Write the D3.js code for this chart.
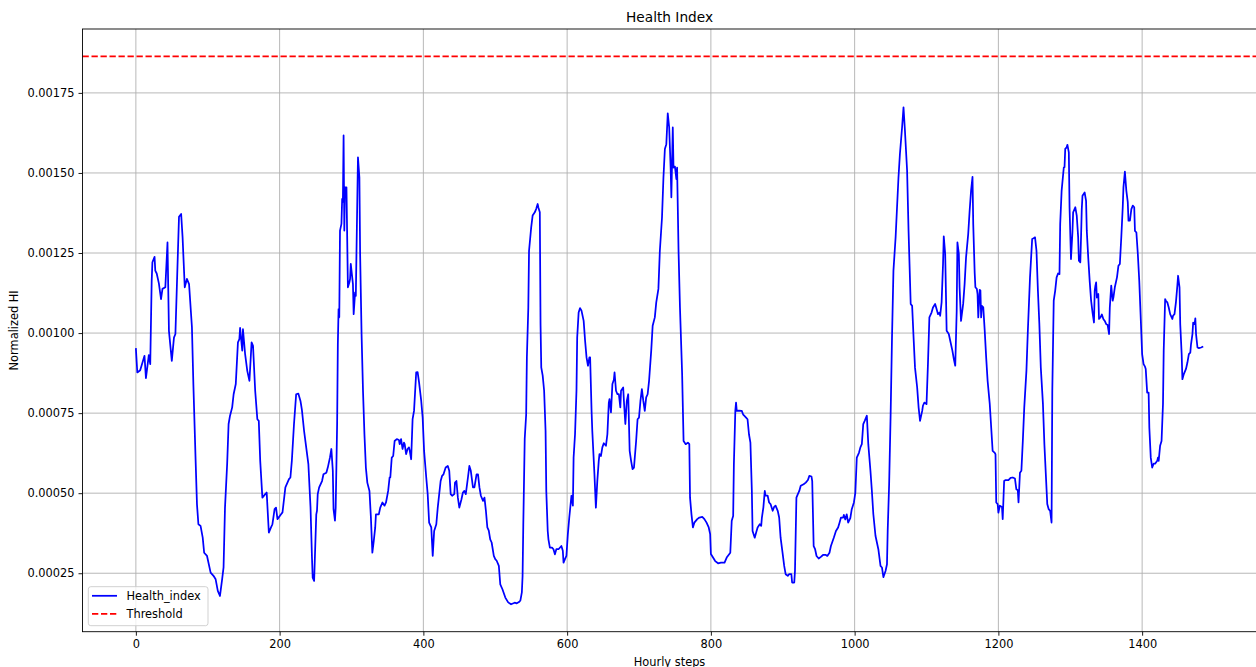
<!DOCTYPE html>
<html>
<head>
<meta charset="utf-8">
<script src="https://cdn.jsdelivr.net/npm/d3@7"></script>
<style>
  html, body { margin: 0; padding: 0; background: #ffffff; }
  svg { display: block; }
  text { font-family: "DejaVu Sans", sans-serif; }
</style>
</head>
<body>
<svg id="chart" width="1256" height="667"></svg>
<script>
// Health index per hourly step, values in units of 1e-5.
const HI_SCALE = 1e-5;
const healthIndexSeries = [
  [0,95.3],[2,87.7],[6,88.4],[12,92.9],[14,85.9],[18,93.1],[20,90.3],[22,116.3],[23,122.1],[26,123.8],
  [27,119.5],[29,118.6],[32,115.5],[35,110.6],[37,113.8],[41,114.3],[44,128.3],[46,100.7],[50,91.3],[53,98.6],
  [55,99.7],[60,136.3],[63,137.2],[65,129.9],[68,114.3],[71,116.9],[74,115.3],[78,101.8],[80,84],[83,61.1],
  [85,46.6],[87,40.3],[90,39.8],[93,36.1],[95,31.4],[99,30.4],[104,25.2],[108,24.2],[111,23.1],[114,19.5],
  [117,17.9],[120,23.1],[122,26.8],[124,45.5],[127,59.1],[129,71.6],[131,74.2],[134,76.8],[136,80.9],[139,84.1],
  [142,97.1],[144,98.1],[145,101.6],[148,94.5],[149,101.2],[152,93.4],[155,88.2],[158,85.1],[161,97.1],[163,96],
  [166,82],[169,73.1],[171,72.6],[173,60.1],[176,48.6],[180,49.7],[182,50.2],[185,37.7],[188,39.3],[190,40.3],
  [193,45],[195,45.5],[197,41.9],[202,43.4],[204,44],[208,51.8],[213,54.4],[215,54.9],[217,60.1],[220,71.6],
  [223,80.9],[226,81.1],[229,78.8],[231,76],[234,69.5],[236,66],[240,59.1],[243,45.5],[245,29.9],[246,23.6],
  [248,22.6],[251,43.4],[252,44.5],[253,49.7],[255,51.8],[259,53.8],[261,55.9],[265,56.4],[267,58],[270,61.1],
  [272,63.8],[274,57],[275,45],[277,41.4],[278,45.5],[280,71.6],[281,96.6],[282,107.5],[283,104.9],[284,132],
  [286,134.1],[287,141.9],[288,141],[289,161.7],[290,132],[291,145.5],[293,145.5],[295,114.3],[297,115.8],[298,116.9],
  [299,121.6],[302,115.3],[303,105.9],[305,112.7],[306,111.6],[309,154.9],[311,148.6],[312,124.7],[314,99.7],[316,82],
  [318,68.4],[320,58],[322,53.3],[325,50.7],[327,42.4],[329,31.4],[331,35.1],[333,39.3],[334,43.4],[338,43.4],
  [340,45.5],[343,47.1],[346,46.1],[348,47.1],[351,50.7],[353,54.9],[354,54.9],[356,61.1],[358,61.6],[360,66.3],
  [363,66.9],[366,66.6],[367,65.3],[369,66.9],[371,63.8],[373,65.8],[374,65.3],[376,62.2],[378,63.8],[380,64.3],
  [381,63.3],[383,60.6],[385,73.1],[387,75.7],[390,87.7],[392,87.8],[394,84.6],[397,78.8],[399,73.6],[401,63.2],
  [404,54.9],[406,49.7],[408,40.8],[411,39.3],[413,30.4],[415,38.2],[418,40.3],[420,45.5],[424,53.8],[426,55.4],
  [428,55.9],[431,58],[434,58.5],[436,57],[438,49.7],[440,49.2],[443,49.7],[444,53.3],[446,53.8],[448,48.6],
  [450,45.5],[453,48.1],[455,50.2],[457,50.7],[459,49.7],[462,54.9],[464,58.5],[466,57],[469,51.8],[471,51.8],
  [474,55.9],[476,55.9],[478,51.8],[480,49.2],[483,47.6],[485,48.6],[487,44.5],[489,39.3],[491,38.3],[493,35.6],
  [495,34.6],[498,30.4],[500,29.4],[502,28.9],[505,27.3],[507,21.5],[510,20],[514,17.4],[518,15.9],[522,15.3],
  [527,15.8],[530,15.6],[533,16],[535,16.5],[537,19],[538,24],[539,40],[541,67],[543,74.5],[544,92.4],
  [546,108],[547,125.7],[550,133],[552,136.7],[555,137.7],[557,138.8],[559,140.3],[560,139.2],[562,137.7],[563,102.8],
  [564,89.3],[566,86.7],[568,82],[570,69.5],[571,50.7],[573,38.2],[574,35.6],[576,33],[579,33],[581,32.5],
  [583,30.9],[585,32.5],[588,32.5],[592,33.5],[594,32],[595,28.3],[597,29.4],[599,30.4],[601,37.2],[603,42.4],
  [606,49.2],[608,46.1],[609,61.1],[611,68.4],[613,82],[614,98.6],[616,106.4],[618,107.8],[620,107],[623,103.8],
  [625,97.6],[627,92.4],[629,89.8],[631,92.4],[632,92.4],[634,75.7],[635,69.5],[638,55.9],[640,45.5],[642,53.8],
  [644,60.1],[645,62.2],[647,61.6],[649,64.3],[651,65.6],[654,64.8],[656,68.4],[658,78.3],[659,79.4],[661,75.2],
  [663,84.1],[665,85.4],[666,87.7],[668,82],[670,80.9],[672,80.9],[674,76.8],[675,82],[678,83],[679,78.8],
  [681,71.6],[683,78.8],[685,80.9],[687,63.2],[689,60.1],[691,57.5],[693,58],[696,66.3],[698,73.1],[700,73.6],
  [702,78.8],[704,82.5],[706,78.8],[708,75.7],[710,79.9],[712,80.9],[714,85.1],[717,94.5],[719,102.3],[722,104.9],
  [724,109.6],[727,113.8],[729,125.7],[732,136.1],[734,148.6],[736,157.5],[738,159],[740,168.6],[742,164.2],[744,151.7],
  [745,142.4],[747,164.2],[748,151.7],[750,152],[752,148.1],[753,151.7],[755,125.7],[757,108],[760,87.2],[762,66.3],
  [765,65.3],[768,65.8],[770,65.3],[771,48.6],[773,43.4],[775,39.3],[777,40.8],[781,41.9],[784,42.4],[788,42.6],
  [791,41.9],[794,40.8],[797,39.3],[799,37.2],[800,31],[803,29.9],[806,28.8],[810,28.1],[814,28.3],[819,28.3],
  [822,29.9],[827,31.4],[829,41.4],[831,42.9],[832,59.1],[834,75.7],[835,78.3],[836,75.7],[839,75.8],[843,75.7],
  [845,74.5],[849,73.6],[851,73.1],[853,68.4],[855,65.8],[857,50.7],[858,38.2],[861,36.1],[863,37.7],[865,39.3],
  [868,40.3],[870,39.8],[871,42.4],[873,45.5],[875,50.7],[876,49.2],[879,49.2],[881,47.1],[883,46.6],[886,44.5],
  [888,45.7],[890,46.1],[893,44.5],[895,42.4],[897,36.1],[900,30.9],[902,27.3],[904,24.7],[907,24.2],[909,24.7],
  [912,24.7],[913,22.1],[916,22.1],[917,25.7],[919,48.6],[921,49.7],[923,50.7],[925,52.3],[929,52.8],[932,53.3],
  [935,54.1],[937,55.4],[940,55.2],[941,53.8],[943,33.5],[945,32.5],[947,30.4],[950,29.6],[953,30.1],[956,30.7],
  [960,30.7],[962,30.4],[965,31.4],[967,33.5],[971,36.1],[974,38.2],[977,39.3],[979,40.8],[981,42.4],[984,42.4],
  [985,43.2],[987,41.8],[989,43.4],[991,40.8],[994,42.2],[996,45],[999,47.1],[1001,50.2],[1003,61.1],[1006,62.6],
  [1008,64.3],[1010,65.3],[1012,71.6],[1014,72.6],[1017,74.2],[1019,65.3],[1022,57],[1024,50.7],[1026,43.5],[1029,36.7],
  [1031,34.6],[1033,32.5],[1036,27.3],[1038,26.8],[1040,23.8],[1043,25.7],[1045,27.8],[1046,38.2],[1048,52.8],[1050,73.6],
  [1052,98.6],[1054,119.5],[1057,129.9],[1059,139.3],[1061,148.6],[1063,155.9],[1066,164.2],[1068,170.5],[1070,163.2],[1073,150.7],
  [1075,132],[1078,109.1],[1080,108.5],[1082,98.6],[1084,89.2],[1087,83],[1089,76.8],[1091,72.6],[1094,75.7],[1095,77.3],
  [1097,78.3],[1100,77.8],[1102,90.3],[1104,104.9],[1107,106.4],[1109,108],[1112,109.1],[1114,107.5],[1116,105.9],[1118,106.4],
  [1119,105.4],[1121,109.6],[1123,121.6],[1124,130.2],[1126,124.7],[1128,100.7],[1131,99.7],[1133,97.6],[1136,94.5],[1138,91.9],
  [1140,89.8],[1142,107],[1143,128.3],[1145,124.7],[1146,114.3],[1148,103.8],[1151,109.1],[1153,115.3],[1155,123.6],[1158,130.9],
  [1160,138.2],[1162,144.5],[1164,148.8],[1165,134.1],[1167,118.9],[1168,114.3],[1170,113.8],[1171,112.2],[1172,104.9],[1174,113.5],
  [1175,113.3],[1176,104.9],[1177,108.5],[1179,108],[1181,100.7],[1183,92.4],[1185,85.1],[1188,77.8],[1190,70.5],[1192,63.2],
  [1195,62.6],[1196,62.1],[1197,47.1],[1199,46.6],[1200,43.9],[1202,46.1],[1205,45.7],[1206,41.9],[1208,53.8],[1210,54.1],
  [1214,54.1],[1217,54.8],[1220,54.9],[1223,54.6],[1225,51.2],[1227,50.9],[1228,47.1],[1230,56.4],[1232,57],[1234,66.3],
  [1236,76.8],[1239,88.2],[1241,100.7],[1244,117.4],[1247,129.4],[1249,129.6],[1251,129.9],[1253,125.7],[1255,113.2],[1257,102.8],
  [1259,89.3],[1262,77.8],[1264,65.3],[1266,55.9],[1268,46.6],[1270,45],[1272,44.5],[1274,40.8],[1275,82],[1277,110.1],
  [1279,113.2],[1281,117.4],[1283,118.6],[1285,118.4],[1286,134.1],[1288,144.5],[1291,151.7],[1292,151.8],[1293,157.5],[1295,158],
  [1296,158.8],[1298,156.4],[1299,139.3],[1301,123.1],[1303,131.4],[1304,137.7],[1307,139.3],[1309,136.7],[1311,129.9],[1312,122.6],
  [1314,122.1],[1315,129.9],[1316,138.7],[1317,142.9],[1320,143.9],[1322,141.3],[1323,131.9],[1325,123.6],[1327,116.3],[1329,110.1],
  [1331,106.4],[1333,103.3],[1334,113.2],[1335,114.8],[1336,115.8],[1337,111.1],[1339,112.2],[1340,104.4],[1342,104.9],[1344,105.8],
  [1346,104.4],[1348,103.8],[1350,102.8],[1352,102.5],[1354,99.7],[1355,108],[1357,114.8],[1359,110.1],[1360,111.1],[1362,114.3],
  [1365,117.4],[1367,121],[1369,121.6],[1371,129.9],[1373,139.3],[1374,145.5],[1376,150.4],[1378,144.5],[1380,140.9],[1381,135.1],
  [1383,135.1],[1385,138.7],[1387,139.8],[1389,139.3],[1390,131.9],[1392,131.4],[1394,124.7],[1396,116.3],[1398,104.9],[1400,93.4],
  [1402,90.3],[1404,89.5],[1405,88.8],[1407,81.4],[1409,81.4],[1410,70.5],[1412,61.1],[1414,58],[1416,59.2],[1418,59.2],
  [1421,60.1],[1422,61.1],[1423,60.1],[1425,64.8],[1427,66.3],[1429,77.8],[1430,94.5],[1432,110.6],[1433,110.1],[1435,109.6],
  [1437,108],[1439,105.9],[1442,104.4],[1443,105.4],[1445,105.9],[1447,109.6],[1449,114.8],[1450,117.9],[1452,114.3],[1453,102.8],
  [1455,93.4],[1456,85.6],[1458,87.2],[1461,88.8],[1463,90.8],[1465,93.4],[1467,93.9],[1468,96.5],[1470,99.7],[1471,103.3],
  [1473,102.8],[1474,104.6],[1475,99.7],[1477,95.5],[1479,95.3],[1482,95.5],[1485,95.8]
];
const thresholdValue = 0.001864;
const xTickValues = [0, 200, 400, 600, 800, 1000, 1200, 1400];
const yTickValues = [0.00025, 0.0005, 0.00075, 0.001, 0.00125, 0.0015, 0.00175];
const legendLabels = ["Health_index", "Threshold"];
const titleText = "Health Index";
const xLabelText = "Hourly steps";
const yLabelText = "Normalized HI";

const data = healthIndexSeries.map(([step, v]) => ({ step, hi: v * HI_SCALE }));

const svg = d3.select("#chart");
const box = { left: 82.5, top: 29, right: 1256.6, bottom: 631.7 };
const FS = 11.4;

svg.append("rect").attr("width", 1256).attr("height", 667).attr("fill", "#ffffff");

// Autoscale with 5% margins on both axes
const [xMin, xMax] = d3.extent(data, d => d.step);
const xPad = 0.05 * (xMax - xMin);
const x = d3.scaleLinear().domain([xMin - xPad, xMax + xPad]).range([box.left, box.right]);

const yMin = Math.min(d3.min(data, d => d.hi), thresholdValue);
const yMax = Math.max(d3.max(data, d => d.hi), thresholdValue);
const yPad = 0.05 * (yMax - yMin);
const y = d3.scaleLinear().domain([yMin - yPad, yMax + yPad]).range([box.bottom, box.top]);

svg.append("clipPath").attr("id", "plot-clip")
  .append("rect")
  .attr("x", box.left).attr("y", box.top)
  .attr("width", box.right - box.left).attr("height", box.bottom - box.top);

// Grid
const grid = svg.append("g").attr("stroke", "#b0b0b0").attr("stroke-width", 0.9);
grid.selectAll("line.gx").data(xTickValues).join("line")
  .attr("class", "gx")
  .attr("x1", d => x(d)).attr("x2", d => x(d))
  .attr("y1", box.top).attr("y2", box.bottom);
grid.selectAll("line.gy").data(yTickValues).join("line")
  .attr("class", "gy")
  .attr("x1", box.left).attr("x2", box.right)
  .attr("y1", d => y(d)).attr("y2", d => y(d));

// Health index line
const line = d3.line().x(d => x(d.step)).y(d => y(d.hi));
svg.append("path")
  .datum(data)
  .attr("clip-path", "url(#plot-clip)")
  .attr("fill", "none")
  .attr("stroke", "#0000ff")
  .attr("stroke-width", 1.75)
  .attr("stroke-linejoin", "round")
  .attr("stroke-linecap", "butt")
  .attr("d", line);

// Threshold line
svg.append("line")
  .attr("x1", box.left).attr("x2", box.right)
  .attr("y1", y(thresholdValue)).attr("y2", y(thresholdValue))
  .attr("stroke", "#ff0000")
  .attr("stroke-width", 1.75)
  .attr("stroke-dasharray", "6.3,2.7");

// Axes
const xAxis = d3.axisBottom(x).tickValues(xTickValues).tickSize(4).tickPadding(4).tickSizeOuter(0)
  .tickFormat(d3.format("d"));
const yAxis = d3.axisLeft(y).tickValues(yTickValues).tickSize(4).tickPadding(4).tickSizeOuter(0)
  .tickFormat(d3.format(".5f"));

const gx = svg.append("g").attr("transform", `translate(0,${box.bottom})`).call(xAxis);
const gy = svg.append("g").attr("transform", `translate(${box.left},0)`).call(yAxis);
[gx, gy].forEach(g => {
  g.select(".domain").remove();
  g.attr("font-family", "DejaVu Sans, sans-serif").attr("font-size", FS);
  g.selectAll(".tick line").attr("stroke", "#000").attr("stroke-width", 0.9);
  g.selectAll(".tick text").attr("fill", "#000");
});

// Spines
svg.append("rect")
  .attr("x", box.left).attr("y", box.top)
  .attr("width", box.right - box.left).attr("height", box.bottom - box.top)
  .attr("fill", "none").attr("stroke", "#000").attr("stroke-width", 0.9);

// Titles
svg.append("text")
  .attr("x", (box.left + box.right) / 2).attr("y", 22)
  .attr("text-anchor", "middle").attr("font-size", 13.7).attr("fill", "#000")
  .text(titleText);
svg.append("text")
  .attr("x", (box.left + box.right) / 2).attr("y", 665.5)
  .attr("text-anchor", "middle").attr("font-size", FS).attr("fill", "#000")
  .text(xLabelText);
svg.append("text")
  .attr("transform", `translate(18,${(box.top + box.bottom) / 2}) rotate(-90)`)
  .attr("text-anchor", "middle").attr("font-size", FS).attr("fill", "#000")
  .text(yLabelText);

// Legend
const legend = svg.append("g");
legend.append("rect")
  .attr("x", 88.3).attr("y", 586.7).attr("width", 119.7).attr("height", 39)
  .attr("rx", 2.5).attr("ry", 2.5)
  .attr("fill", "#ffffff").attr("fill-opacity", 0.8)
  .attr("stroke", "#cccccc").attr("stroke-width", 0.9);
const legendStyles = [
  { color: "#0000ff", dash: null },
  { color: "#ff0000", dash: "6.3,2.7" }
];
legendLabels.forEach((label, i) => {
  const cy = 595.8 + i * 18;
  legend.append("line")
    .attr("x1", 92).attr("x2", 117).attr("y1", cy).attr("y2", cy)
    .attr("stroke", legendStyles[i].color).attr("stroke-width", 1.75)
    .attr("stroke-dasharray", legendStyles[i].dash);
  legend.append("text")
    .attr("x", 126.5).attr("y", cy + 4.1)
    .attr("font-size", FS).attr("fill", "#000")
    .text(label);
});
</script>
</body>
</html>
